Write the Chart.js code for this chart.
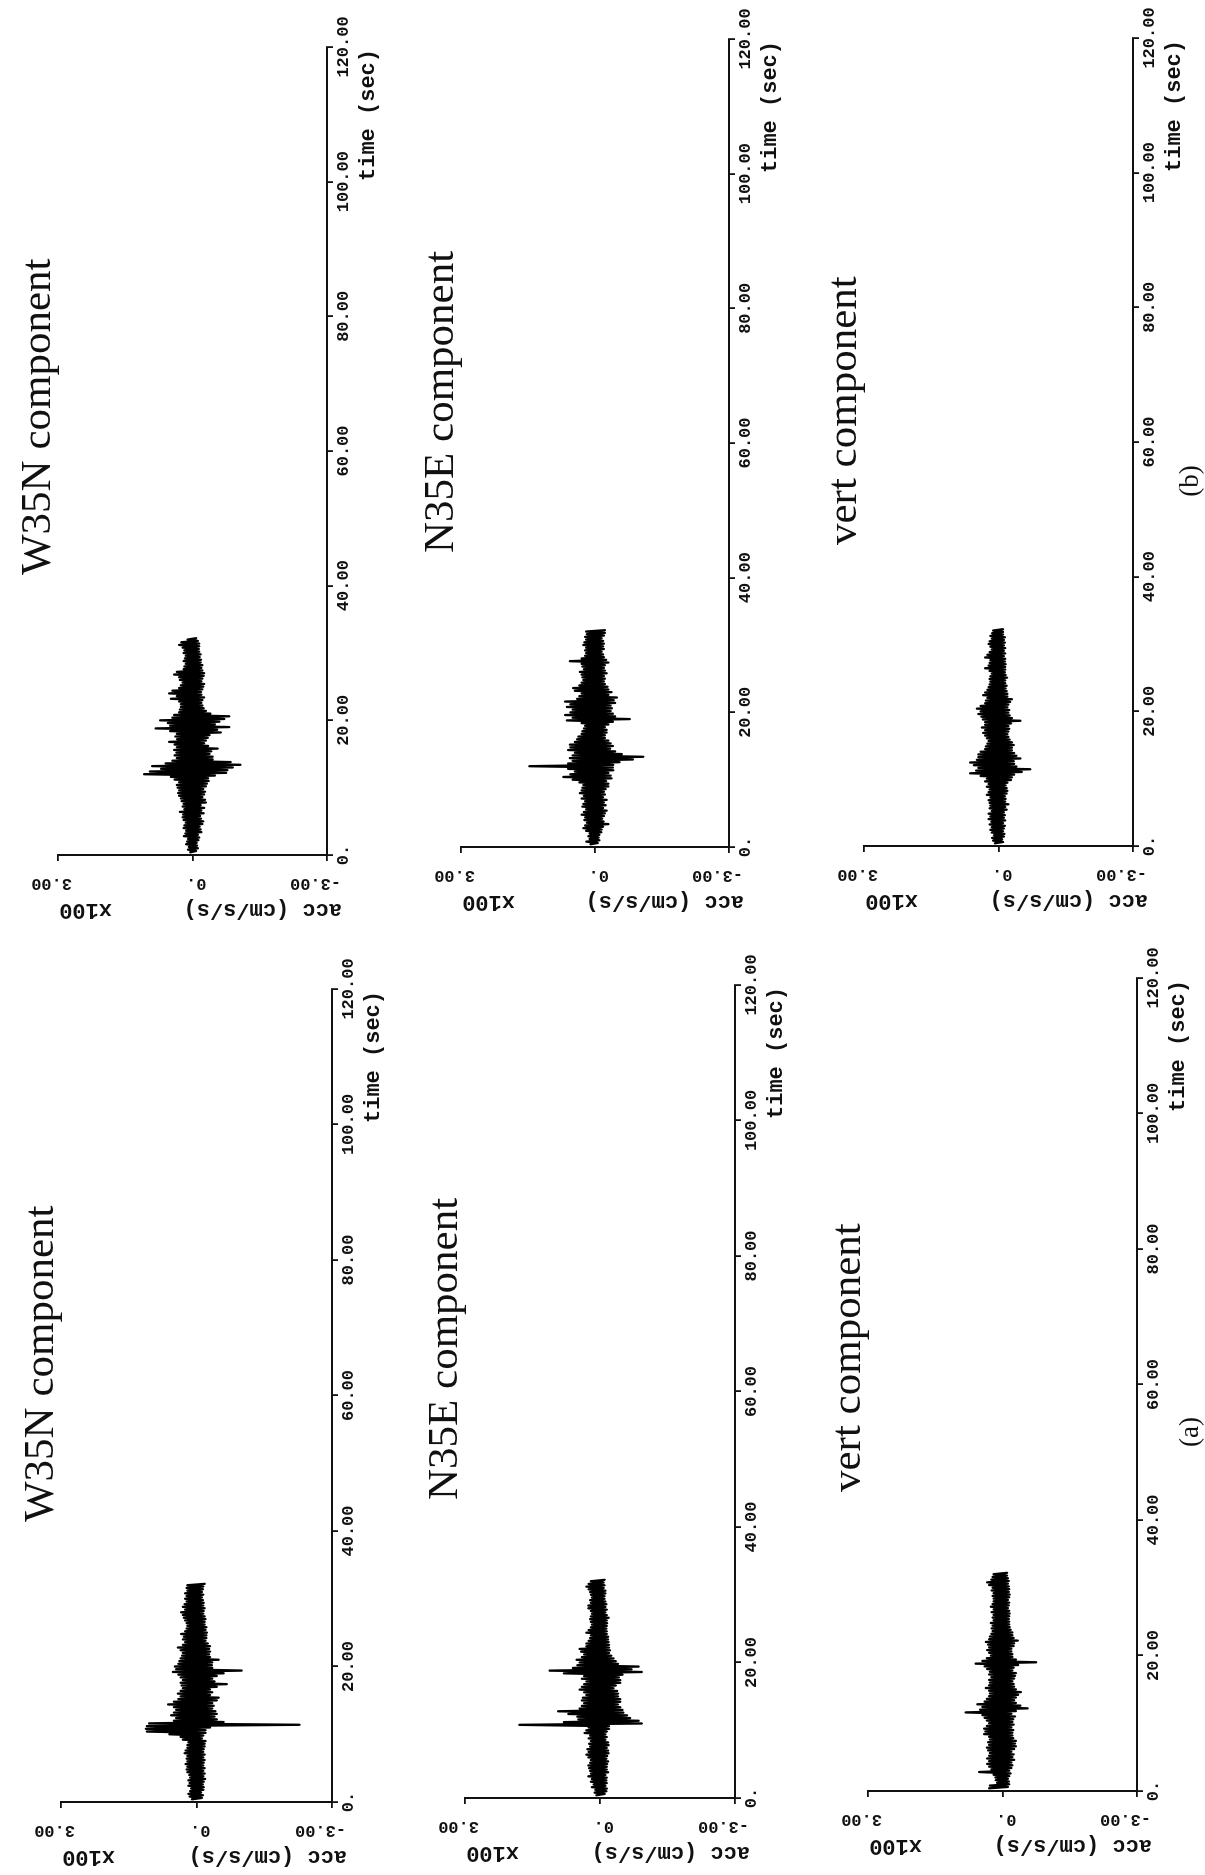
<!DOCTYPE html>
<html><head><meta charset="utf-8">
<script src="https://cdn.jsdelivr.net/npm/chart.js@4.4.1/dist/chart.umd.min.js"></script>
<style>
html,body{margin:0;padding:0;background:#fff;width:1205px;height:1875px;overflow:hidden;}
#page{position:absolute;left:0;top:0;width:1875px;height:1205px;transform-origin:0 0;transform:translate(0px,1875px) rotate(-90deg);background:#fff;}
canvas{position:absolute;}
.ttl{position:absolute;font-family:"Liberation Serif","Times New Roman",serif;font-size:43px;line-height:43px;white-space:nowrap;color:#111;}
.lbl{position:absolute;font-family:"Liberation Serif","Times New Roman",serif;font-size:27px;line-height:27px;white-space:nowrap;color:#111;width:100px;text-align:center;}
</style></head>
<body><div id="page"></div>
<script>
// ---------- data ----------
const xTickValues = [0, 20, 40, 60, 80, 100, 120];
const xTickLabels = ['0.', '20.00', '40.00', '60.00', '80.00', '100.00', '120.00'];
const yTickValues = [-3, 0, 3];
const yTickLabels = ['-3.00', '0.', '3.00'];
const yTitle = 'acc (cm/s/s)';
const yScaleNote = 'x100';
const xTitle = 'time (sec)';
const componentTitles = ['W35N component', 'N35E component', 'vert component'];
const figureLabels = ['(a)', '(b)'];
const sampleStart = 0.4;   // s
const sampleStep = 0.2;    // s

// (a) traces, acc in units of 100 cm/s/s
const accA_W35N = [
 0.1,-0.12,0.15,-0.14,0.18,-0.1,0.14,-0.15,0.12,-0.16,
 0.18,-0.14,0.15,-0.16,0.18,-0.19,0.14,-0.15,0.16,-0.18,
 0.2,-0.15,0.22,-0.18,0.2,-0.15,0.24,-0.16,0.2,-0.18,
 0.22,-0.15,0.2,-0.18,0.26,-0.15,0.24,-0.16,0.2,-0.18,
 0.2,-0.18,0.18,-0.2,0.3,-0.12,0.35,-0.15,0.6,-0.2,
 1.1,-0.2,1.12,-0.3,1.1,-2.28,1.05,-0.6,0.5,-0.45,
 0.45,-0.4,0.56,-0.45,0.5,-0.42,0.45,-0.35,0.5,-0.38,
 0.63,-0.35,0.5,-0.45,0.4,-0.49,0.35,-0.3,0.41,-0.35,
 0.35,-0.3,0.3,-0.45,0.33,-0.67,0.35,-0.4,0.3,-0.35,
 0.35,-0.45,0.4,-0.6,0.52,-1.0,0.45,-0.35,0.48,-0.34,
 0.4,-0.35,0.38,-0.49,0.35,-0.3,0.32,-0.28,0.3,-0.3,
 0.35,-0.28,0.41,-0.3,0.3,-0.25,0.25,-0.2,0.3,-0.22,
 0.28,-0.22,0.34,-0.23,0.25,-0.2,0.22,-0.22,0.2,-0.18,
 0.22,-0.18,0.25,-0.2,0.28,-0.18,0.3,-0.15,0.34,-0.16,
 0.25,-0.18,0.3,-0.15,0.26,-0.16,0.22,-0.14,0.25,-0.12,
 0.22,-0.15,0.25,-0.12,0.2,-0.14,0.22,-0.15,0.2,-0.18
];
const accA_N35E = [
 0.08,-0.1,0.12,-0.14,0.1,-0.15,0.18,-0.12,0.14,-0.15,
 0.2,-0.14,0.18,-0.15,0.26,-0.12,0.2,-0.18,0.22,-0.15,
 0.24,-0.15,0.26,-0.16,0.22,-0.18,0.2,-0.14,0.26,-0.16,
 0.3,-0.19,0.25,-0.18,0.28,-0.15,0.22,-0.19,0.24,-0.18,
 0.2,-0.12,0.25,-0.15,0.22,-0.12,0.34,-0.15,0.3,-0.2,
 0.25,-0.2,1.79,-0.93,0.8,-0.86,0.48,-0.67,0.5,-0.6,
 0.7,-0.52,0.93,-0.5,0.45,-0.45,0.4,-0.4,0.35,-0.45,
 0.4,-0.45,0.38,-0.4,0.3,-0.4,0.35,-0.38,0.45,-0.3,
 0.4,-0.35,0.35,-0.45,0.3,-0.45,0.4,-0.42,0.35,-0.5,
 0.8,-0.93,1.12,-0.7,0.6,-0.86,0.5,-0.4,0.45,-0.35,
 0.52,-0.3,0.4,-0.25,0.35,-0.2,0.42,-0.22,0.45,-0.2,
 0.3,-0.2,0.3,-0.19,0.25,-0.18,0.22,-0.18,0.2,-0.15,
 0.3,-0.15,0.25,-0.14,0.2,-0.15,0.18,-0.16,0.2,-0.15,
 0.22,-0.19,0.2,-0.15,0.18,-0.12,0.2,-0.15,0.26,-0.12,
 0.26,-0.14,0.2,-0.12,0.22,-0.1,0.18,-0.1,0.2,-0.12,
 0.22,-0.12,0.25,-0.08,0.3,-0.1,0.25,-0.08,0.2,-0.1
];
const accA_vert = [
 0.3,-0.12,0.28,-0.15,0.12,-0.14,0.15,-0.12,0.16,-0.15,
 0.2,-0.18,0.52,-0.15,0.25,-0.2,0.3,-0.22,0.34,-0.2,
 0.3,-0.26,0.34,-0.22,0.3,-0.25,0.28,-0.2,0.32,-0.26,
 0.35,-0.3,0.3,-0.28,0.32,-0.3,0.28,-0.24,0.3,-0.22,
 0.41,-0.22,0.38,-0.24,0.41,-0.2,0.35,-0.25,0.3,-0.22,
 0.35,-0.24,0.4,-0.28,0.45,-0.2,0.82,-0.3,0.5,-0.56,
 0.45,-0.4,0.56,-0.3,0.4,-0.26,0.35,-0.3,0.3,-0.35,
 0.28,-0.41,0.3,-0.3,0.37,-0.26,0.3,-0.25,0.28,-0.22,
 0.3,-0.26,0.25,-0.28,0.3,-0.3,0.28,-0.22,0.34,-0.25,
 0.4,-0.35,0.6,-0.75,0.45,-0.3,0.35,-0.22,0.26,-0.22,
 0.3,-0.2,0.34,-0.2,0.3,-0.25,0.32,-0.26,0.37,-0.34,
 0.3,-0.25,0.28,-0.22,0.25,-0.22,0.22,-0.18,0.24,-0.16,
 0.22,-0.15,0.26,-0.15,0.2,-0.14,0.22,-0.15,0.2,-0.16,
 0.24,-0.15,0.2,-0.12,0.26,-0.14,0.22,-0.15,0.2,-0.12,
 0.2,-0.15,0.22,-0.16,0.2,-0.14,0.24,-0.15,0.22,-0.14,
 0.3,-0.12,0.34,-0.14,0.25,-0.12,0.22,-0.1,0.2,-0.1
];
// (b) traces
const accB_W35N = [
 0.05,-0.08,0.1,-0.12,0.08,-0.1,0.14,-0.09,0.12,-0.13,
 0.1,-0.15,0.19,-0.12,0.16,-0.2,0.14,-0.18,0.2,-0.16,
 0.18,-0.22,0.15,-0.24,0.2,-0.19,0.22,-0.17,0.21,-0.25,
 0.28,-0.2,0.18,-0.26,0.22,-0.18,0.2,-0.3,0.24,-0.28,
 0.26,-0.22,0.3,-0.26,0.32,-0.28,0.3,-0.24,0.33,-0.3,
 0.35,-0.32,0.3,-0.36,0.4,-0.35,0.48,-0.5,1.08,-0.75,
 0.95,-0.78,0.7,-0.9,0.9,-1.07,0.6,-0.85,0.45,-0.45,
 0.35,-0.45,0.4,-0.38,0.36,-0.42,0.41,-0.56,0.35,-0.35,
 0.4,-0.26,0.52,-0.3,0.34,-0.34,0.38,-0.38,0.35,-0.63,
 0.5,-0.55,0.82,-0.82,0.5,-0.5,0.55,-0.6,0.72,-0.71,
 0.45,-0.82,0.41,-0.4,0.3,-0.3,0.28,-0.25,0.26,-0.22,
 0.26,-0.2,0.3,-0.22,0.48,-0.26,0.35,-0.2,0.52,-0.19,
 0.45,-0.22,0.3,-0.24,0.26,-0.26,0.22,-0.2,0.28,-0.22,
 0.3,-0.25,0.41,-0.26,0.35,-0.22,0.2,-0.2,0.18,-0.22,
 0.15,-0.18,0.2,-0.19,0.17,-0.16,0.15,-0.18,0.2,-0.15,
 0.18,-0.14,0.22,-0.15,0.3,-0.15,0.25,-0.12,0.11,-0.08
];
const accB_N35E = [
 0.1,-0.06,0.19,-0.1,0.12,-0.08,0.15,-0.1,0.12,-0.14,
 0.2,-0.15,0.26,-0.18,0.22,-0.3,0.18,-0.19,0.24,-0.16,
 0.22,-0.2,0.3,-0.22,0.25,-0.26,0.2,-0.18,0.28,-0.24,
 0.26,-0.2,0.22,-0.26,0.3,-0.18,0.25,-0.22,0.34,-0.2,
 0.3,-0.24,0.28,-0.3,0.26,-0.3,0.35,-0.25,0.5,-0.37,
 0.71,-0.35,0.55,-0.3,0.45,-0.41,0.6,-0.4,1.47,-0.41,
 0.6,-0.55,0.5,-0.85,0.56,-1.08,0.5,-0.6,0.45,-0.45,
 0.6,-0.34,0.55,-0.4,0.56,-0.35,0.45,-0.3,0.4,-0.22,
 0.37,-0.22,0.3,-0.26,0.28,-0.26,0.25,-0.22,0.22,-0.3,
 0.3,-0.4,0.63,-0.78,0.5,-0.45,0.67,-0.4,0.55,-0.35,
 0.5,-0.38,0.63,-0.35,0.55,-0.45,0.67,-0.42,0.4,-0.49,
 0.35,-0.3,0.3,-0.37,0.45,-0.3,0.49,-0.28,0.35,-0.22,
 0.3,-0.2,0.26,-0.22,0.28,-0.2,0.3,-0.26,0.34,-0.22,
 0.25,-0.2,0.28,-0.22,0.3,-0.3,0.56,-0.25,0.3,-0.2,
 0.22,-0.18,0.2,-0.15,0.22,-0.2,0.2,-0.18,0.26,-0.2,
 0.24,-0.18,0.2,-0.15,0.22,-0.2,0.18,-0.22,0.2,-0.22
];
const accB_vert = [
 0.08,-0.1,0.12,-0.08,0.14,-0.12,0.1,-0.13,0.15,-0.1,
 0.18,-0.12,0.15,-0.14,0.2,-0.1,0.16,-0.15,0.22,-0.12,
 0.18,-0.14,0.22,-0.12,0.15,-0.18,0.2,-0.15,0.18,-0.22,
 0.2,-0.15,0.22,-0.16,0.18,-0.14,0.26,-0.18,0.22,-0.2,
 0.2,-0.18,0.26,-0.16,0.22,-0.2,0.3,-0.28,0.26,-0.3,
 0.4,-0.35,0.63,-0.52,0.5,-0.71,0.45,-0.4,0.55,-0.35,
 0.63,-0.34,0.48,-0.49,0.45,-0.4,0.45,-0.35,0.4,-0.3,
 0.3,-0.3,0.28,-0.34,0.25,-0.3,0.22,-0.25,0.26,-0.22,
 0.3,-0.2,0.34,-0.22,0.3,-0.24,0.37,-0.22,0.3,-0.28,
 0.3,-0.49,0.35,-0.3,0.38,-0.25,0.45,-0.22,0.4,-0.24,
 0.48,-0.2,0.4,-0.22,0.3,-0.26,0.28,-0.3,0.25,-0.2,
 0.34,-0.2,0.3,-0.18,0.25,-0.16,0.22,-0.18,0.2,-0.15,
 0.18,-0.15,0.2,-0.19,0.18,-0.16,0.15,-0.14,0.2,-0.15,
 0.3,-0.15,0.22,-0.16,0.2,-0.14,0.18,-0.15,0.3,-0.12,
 0.25,-0.15,0.2,-0.12,0.15,-0.15,0.18,-0.12,0.22,-0.14,
 0.2,-0.12,0.15,-0.14,0.18,-0.1,0.14,-0.1,0.12,-0.1
];

// ---------- layout (unrotated page coordinates: u along time, v down) ----------
const panels = [
  {set: 0, comp: 0, vals: accA_W35N, L: 73,   R: 886,  T: 61,  B: 332},
  {set: 0, comp: 1, vals: accA_N35E, L: 77,   R: 890,  T: 465, B: 735},
  {set: 0, comp: 2, vals: accA_vert, L: 84,   R: 897,  T: 868, B: 1137},
  {set: 1, comp: 0, vals: accB_W35N, L: 1020, R: 1828, T: 58,  B: 327},
  {set: 1, comp: 1, vals: accB_N35E, L: 1028, R: 1836, T: 461, B: 729},
  {set: 1, comp: 2, vals: accB_vert, L: 1029, R: 1837, T: 864, B: 1133}
];
const titleLeft = [[353, 375, 383], [1300, 1322, 1330]];
const labelPos = [{u: 393, v: 1176}, {u: 1344, v: 1176}];

const PAD_L = 75, PAD_T = 50, PAD_R = 45, AX_H = 70;
const INK = '#111';
const MONO = '"Liberation Mono","Courier New",monospace';

const textPlugin = {
  id: 'seisTexts',
  afterDraw(chart) {
    const {ctx, chartArea: ca, scales} = chart;
    const y = scales.y;
    ctx.save();
    ctx.fillStyle = INK;
    ctx.textBaseline = 'middle';
    ctx.font = 'bold 17px ' + MONO;
    yTickValues.forEach((v, i) => {
      const py = y.getPixelForValue(v);
      ctx.save();
      ctx.translate(ca.left - 28, py + 14);
      ctx.rotate(-Math.PI / 2);
      ctx.textAlign = 'left';
      ctx.fillText(yTickLabels[i], 0, 0);
      ctx.restore();
    });
    ctx.font = 'bold 22px ' + MONO;
    ctx.save();
    ctx.translate(ca.left - 55, ca.bottom + 15);
    ctx.rotate(-Math.PI / 2);
    ctx.textAlign = 'left';
    ctx.fillText(yTitle, 0, 0);
    ctx.restore();
    ctx.save();
    ctx.translate(ca.left - 55, ca.top + 54);
    ctx.rotate(-Math.PI / 2);
    ctx.textAlign = 'left';
    ctx.fillText(yScaleNote, 0, 0);
    ctx.restore();
    ctx.textAlign = 'right';
    ctx.fillText(xTitle, ca.right - 2, ca.bottom + 41);
    ctx.restore();
  }
};

const page = document.getElementById('page');
const axisGrid = {display: true, drawOnChartArea: false, drawTicks: true, tickLength: 6, color: INK, lineWidth: 1.8};
const axisBorder = {display: true, color: INK, width: 2};

panels.forEach(p => {
  const cv = document.createElement('canvas');
  const w = (p.R - p.L) + PAD_L + PAD_R;
  const h = (p.B - p.T) + PAD_T + AX_H;
  cv.width = w; cv.height = h;
  cv.style.width = w + 'px'; cv.style.height = h + 'px';
  cv.style.left = (p.L - PAD_L) + 'px';
  cv.style.top = (p.T - PAD_T) + 'px';
  page.appendChild(cv);
  const pts = p.vals.map((v, i) => ({x: sampleStart + i * sampleStep, y: v}));
  new Chart(cv, {
    type: 'line',
    data: {datasets: [{data: pts, borderColor: '#000', borderWidth: 2.3, pointRadius: 0, tension: 0,
                       fill: false, borderJoinStyle: 'round', borderCapStyle: 'round'}]},
    options: {
      responsive: false, animation: false, devicePixelRatio: 1,
      layout: {padding: {left: 0, top: PAD_T, right: PAD_R, bottom: 0}, autoPadding: false},
      plugins: {legend: {display: false}, tooltip: {enabled: false}, title: {display: false}},
      events: [],
      scales: {
        x: {
          type: 'linear', position: 'bottom', min: 0, max: 120,
          afterBuildTicks: s => { s.ticks = xTickValues.map(v => ({value: v})); },
          afterFit: s => { s.height = AX_H; },
          grid: axisGrid, border: axisBorder,
          ticks: {autoSkip: false, maxRotation: 0, minRotation: 0, padding: 1, color: INK,
                  font: {family: MONO, size: 17, weight: 'bold'},
                  callback: (v, i) => xTickLabels[i]}
        },
        y: {
          type: 'linear', position: 'left', min: -3, max: 3,
          afterBuildTicks: s => { s.ticks = yTickValues.map(v => ({value: v})); },
          afterFit: s => { s.width = PAD_L; },
          grid: axisGrid, border: axisBorder,
          ticks: {display: false}
        }
      }
    },
    plugins: [textPlugin]
  });
  const t = document.createElement('div');
  t.className = 'ttl';
  t.textContent = componentTitles[p.comp];
  t.style.left = titleLeft[p.set][p.comp] + 'px';
  t.style.top = (p.T - 44) + 'px';
  page.appendChild(t);
});

figureLabels.forEach((s, i) => {
  const d = document.createElement('div');
  d.className = 'lbl';
  d.textContent = s;
  d.style.left = labelPos[i].u + 'px';
  d.style.top = labelPos[i].v + 'px';
  page.appendChild(d);
});
</script>
</body></html>
